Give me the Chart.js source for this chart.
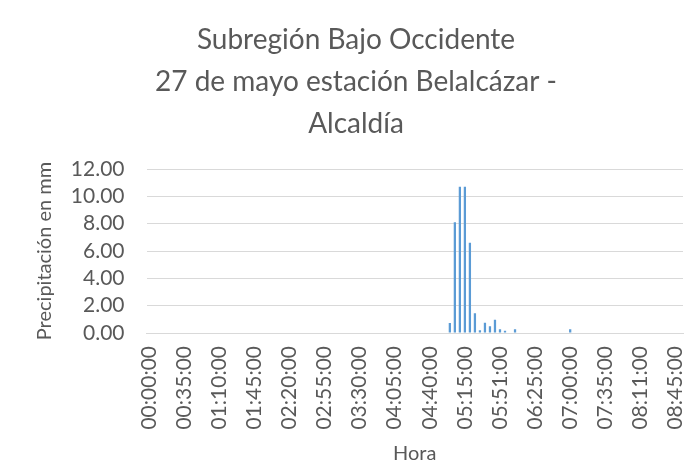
<!DOCTYPE html>
<html>
<head>
<meta charset="utf-8">
<script src="https://cdn.jsdelivr.net/npm/chart.js@4/dist/chart.umd.min.js"></script>
<style>
  body { margin: 0; background: #fff; }
</style>
</head>
<body>
<canvas id="chart1" width="692" height="470"></canvas>
<script>
// categories, one row per hour
const horas = [
  '00:00:00','00:05:00','00:10:00','00:15:00','00:20:00','00:25:00','00:30:00','00:35:00','00:40:00','00:45:00','00:50:00','00:55:00',
  '01:00:00','01:05:00','01:10:00','01:15:00','01:20:00','01:25:00','01:30:00','01:35:00','01:40:00','01:45:00','01:50:00','01:55:00',
  '02:00:00','02:05:00','02:10:00','02:15:00','02:20:00','02:25:00','02:30:00','02:35:00','02:40:00','02:45:00','02:50:00','02:55:00',
  '03:00:00','03:05:00','03:10:00','03:15:00','03:20:00','03:25:00','03:30:00','03:35:00','03:40:00','03:45:00','03:50:00','03:55:00',
  '04:00:00','04:05:00','04:10:00','04:15:00','04:20:00','04:25:00','04:30:00','04:35:00','04:40:00','04:45:00','04:50:00','04:55:00',
  '05:00:00','05:05:00','05:10:00','05:15:00','05:20:00','05:25:00','05:30:00','05:35:00','05:40:00','05:45:00','05:51:00','05:55:00',
  '06:00:00','06:05:00','06:10:00','06:15:00','06:20:00','06:25:00','06:30:00','06:35:00','06:40:00','06:45:00','06:50:00','06:55:00',
  '07:00:00','07:05:00','07:10:00','07:15:00','07:20:00','07:25:00','07:30:00','07:35:00','07:40:00','07:45:00','07:50:00','07:55:00',
  '08:00:00','08:05:00','08:11:00','08:15:00','08:20:00','08:25:00','08:30:00','08:35:00','08:40:00','08:45:00','08:50:00'
];

// precipitation in mm, same layout as horas
const precipitacion = [
  0, 0, 0, 0, 0, 0, 0, 0, 0, 0, 0, 0,
  0, 0, 0, 0, 0, 0, 0, 0, 0, 0, 0, 0,
  0, 0, 0, 0, 0, 0, 0, 0, 0, 0, 0, 0,
  0, 0, 0, 0, 0, 0, 0, 0, 0, 0, 0, 0,
  0, 0, 0, 0, 0, 0, 0, 0, 0, 0, 0, 0,
  0.73, 8.1, 10.7, 10.7, 6.6, 1.45, 0.2, 0.75, 0.5, 0.97, 0.28, 0.17,
  0, 0.28, 0, 0, 0, 0, 0, 0, 0, 0, 0, 0,
  0.28, 0, 0, 0, 0, 0, 0, 0, 0, 0, 0, 0,
  0, 0, 0, 0, 0, 0, 0, 0, 0, 0, 0
];

const tituloLineas = ['Subregión Bajo Occidente', '27 de mayo estación Belalcázar -', 'Alcaldía'];

const gris = '#595959';
const ctx1 = document.getElementById('chart1').getContext('2d');

const chart1 = new Chart(ctx1, {
  type: 'bar',
  data: {
    labels: horas,
    datasets: [{
      label: 'Precipitación',
      data: precipitacion,
      backgroundColor: '#5B9BD5',
      borderWidth: 0,
      barPercentage: 0.45,
      categoryPercentage: 1
    }]
  },
  options: {
    responsive: false,
    animation: false,
    layout: {
      padding: { left: 29, right: 9, top: 0, bottom: 4 }
    },
    plugins: {
      legend: { display: false },
      tooltip: { enabled: false },
      title: {
        display: true,
        text: tituloLineas,
        color: gris,
        font: { family: 'Lato', size: 28, weight: 'normal', lineHeight: 1.5 },
        padding: { top: 19, bottom: 24 }
      }
    },
    scales: {
      x: {
        grid: { display: false, drawTicks: false },
        border: { display: true, color: '#D9D9D9', width: 1 },
        ticks: {
          autoSkip: false,
          minRotation: 90,
          maxRotation: 90,
          padding: 13,
          color: gris,
          font: { family: 'Lato', size: 21 },
          callback: function (v, i) {
            return i % 7 === 0 ? this.getLabelForValue(v) : null;
          }
        },
        title: {
          display: true,
          text: 'Hora',
          color: gris,
          font: { family: 'Lato', size: 20 },
          padding: { top: 0, bottom: 0 }
        },
        afterFit: function (scale) {
          scale.height = 133;
          scale.paddingLeft = 0;
          scale.paddingRight = 0;
        }
      },
      y: {
        min: 0,
        max: 12,
        grid: { color: '#D9D9D9', lineWidth: 1, drawTicks: false },
        border: { display: false },
        ticks: {
          stepSize: 2,
          autoSkip: false,
          padding: 22,
          color: gris,
          font: { family: 'Lato', size: 21 },
          callback: function (v) { return v.toFixed(2); }
        },
        title: {
          display: true,
          text: 'Precipitación en mm',
          color: gris,
          font: { family: 'Lato', size: 20 },
          padding: { top: 4, bottom: 4 }
        },
        afterFit: function (scale) {
          scale.width = 117.5;
          scale.paddingTop = 0;
          scale.paddingBottom = 0;
        }
      }
    }
  }
});
</script>
</body>
</html>
